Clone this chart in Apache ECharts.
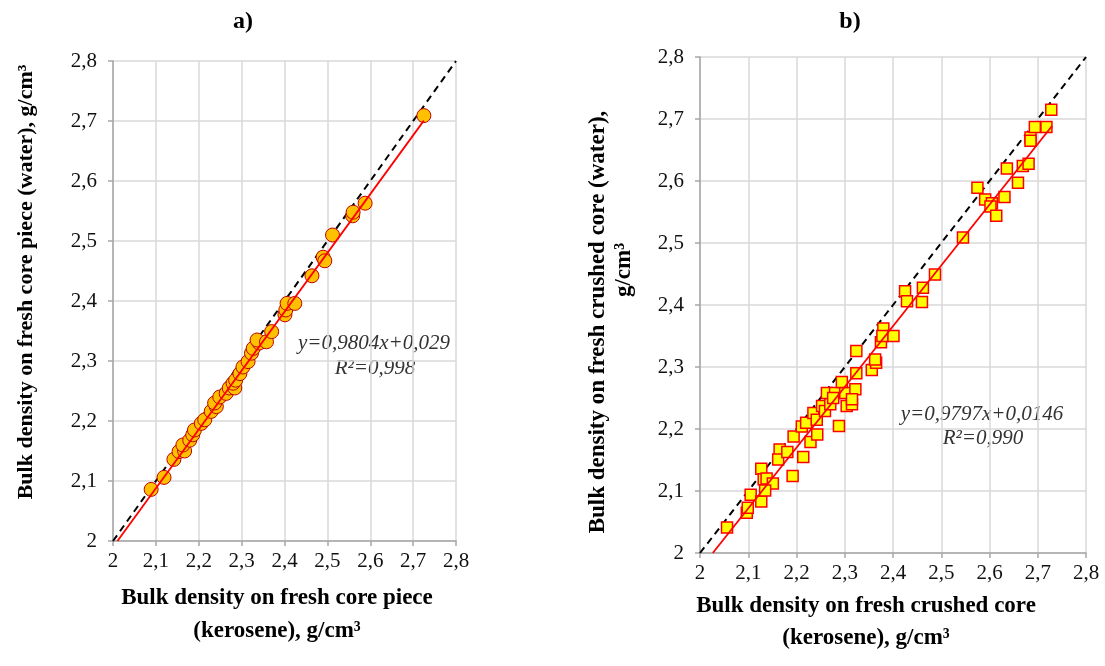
<!DOCTYPE html>
<html>
<head>
<meta charset="utf-8">
<script src="https://cdn.jsdelivr.net/npm/echarts@6/dist/echarts.min.js"></script>
<style>
html,body{margin:0;padding:0;background:#fff;}
#chart{width:1105px;height:666px;}
</style>
</head>
<body>
<div id="chart"></div>
<script>
// ---- data ----
const titles = ['a)', 'b)'];
const tickValues = [2, 2.1, 2.2, 2.3, 2.4, 2.5, 2.6, 2.7, 2.8];
const pointsA = [
  [2.089,2.086],[2.119,2.106],[2.142,2.136],[2.154,2.149],[2.167,2.150],[2.163,2.160],
  [2.179,2.168],[2.186,2.177],[2.190,2.185],[2.206,2.196],[2.214,2.202],[2.229,2.216],
  [2.241,2.224],[2.237,2.230],[2.249,2.240],[2.264,2.246],[2.271,2.255],[2.284,2.255],
  [2.280,2.263],[2.286,2.268],[2.296,2.279],[2.303,2.290],[2.315,2.299],[2.323,2.313],
  [2.327,2.321],[2.341,2.330],[2.336,2.335],[2.358,2.332],[2.370,2.349],[2.401,2.377],
  [2.403,2.385],[2.406,2.396],[2.424,2.396],[2.464,2.442],[2.490,2.473],[2.494,2.467],
  [2.512,2.510],[2.559,2.542],[2.560,2.548],[2.588,2.563],[2.725,2.709]
];
const pointsB = [
  [2.056,2.041],[2.097,2.065],[2.099,2.073],[2.105,2.094],[2.127,2.083],[2.127,2.136],
  [2.132,2.119],[2.138,2.120],[2.151,2.112],[2.135,2.101],[2.192,2.124],[2.165,2.167],
  [2.162,2.151],[2.181,2.163],[2.214,2.155],[2.194,2.188],[2.211,2.204],[2.220,2.210],
  [2.229,2.179],[2.243,2.191],[2.235,2.226],[2.242,2.215],[2.253,2.237],[2.263,2.258],
  [2.259,2.229],[2.280,2.258],[2.288,2.205],[2.301,2.258],[2.304,2.237],[2.315,2.240],
  [2.322,2.264],[2.294,2.276],[2.315,2.248],[2.270,2.240],[2.276,2.250],
  [2.324,2.326],[2.324,2.290],[2.356,2.295],[2.365,2.307],[2.363,2.312],[2.380,2.362],
  [2.375,2.340],[2.378,2.350],[2.401,2.350],[2.425,2.422],[2.429,2.406],[2.462,2.428],
  [2.460,2.405],[2.487,2.449],[2.545,2.509],[2.575,2.589],[2.591,2.570],[2.605,2.564],
  [2.602,2.559],[2.614,2.544],[2.631,2.574],[2.636,2.620],[2.659,2.597],[2.669,2.624],
  [2.681,2.628],[2.685,2.670],[2.685,2.665],[2.694,2.687],[2.718,2.687],[2.728,2.715]
];
// trendline equations (slope, intercept) and x-range
const trendA = {slope: 0.9804, intercept: 0.029, xStart: 2.0104, xEnd: 2.725};
const trendB = {slope: 0.9797, intercept: 0.0146, xStart: 2.0265, xEnd: 2.730};
const identityLine = [[2, 2], [2.8, 2.8]];
const eqTextA = ['y=0,9804x+0,029', 'R²=0,998'];
const eqTextB = ['y=0,9797x+0,0146', 'R²=0,990'];
const xTitleA = ['Bulk density on fresh core piece', '(kerosene), g/cm³'];
const yTitleA = ['Bulk density on fresh core piece (water), g/cm³'];
const xTitleB = ['Bulk density on fresh crushed core', '(kerosene), g/cm³'];
const yTitleB = ['Bulk density on fresh crushed core (water),', 'g/cm³'];

// ---- chart ----
const serif = '"Liberation Serif", "Times New Roman", serif';
const fmt = v => String(+(+v).toFixed(1)).replace('.', ',');
const trendPts = t => [[t.xStart, t.slope*t.xStart + t.intercept], [t.xEnd, t.slope*t.xEnd + t.intercept]];

function axis(idx, type) {
  return {
    type: 'value', gridIndex: idx, min: 2, max: 2.8, interval: 0.1,
    axisLine: {show: true, onZero: false, lineStyle: {color: '#A6A6A6', width: 1.5}},
    axisTick: {show: true, length: 5, lineStyle: {color: '#A6A6A6', width: 1.5}},
    splitLine: {show: true, lineStyle: {color: '#D9D9D9', width: 1.5}},
    axisLabel: {formatter: fmt, fontFamily: serif, fontSize: 21, color: '#111',
      margin: type === 'y' ? 16 : 10}
  };
}

const TF = 'bold 23px ' + serif;
const EF = 'italic 21px ' + serif;
const txt = (x, y, text, font, fill, rot) => ({type: 'text', x, y, rotation: rot || 0,
  style: {text, font, fill: fill || '#000', align: 'center', verticalAlign: 'middle'}});

const chart = echarts.init(document.getElementById('chart'));
const option = {
  backgroundColor: '#fff',
  animation: false,
  grid: [
    {left: 113, top: 61, width: 343, height: 480},
    {left: 700, top: 57, width: 386, height: 496}
  ],
  xAxis: [axis(0, 'x'), axis(1, 'x')],
  yAxis: [axis(0, 'y'), axis(1, 'y')],
  series: [
    {type: 'line', xAxisIndex: 0, yAxisIndex: 0, data: identityLine, symbol: 'none',
     lineStyle: {color: '#000', width: 2, type: [7, 5]}, z: 2},
    {type: 'line', xAxisIndex: 0, yAxisIndex: 0, data: trendPts(trendA), symbol: 'none',
     lineStyle: {color: '#FF0000', width: 1.8}, z: 4},
    {type: 'scatter', xAxisIndex: 0, yAxisIndex: 0, data: pointsA, symbol: 'circle', symbolSize: 14,
     itemStyle: {color: '#FFC000', borderColor: '#C00000', borderWidth: 1, opacity: 1}, z: 3},
    {type: 'line', xAxisIndex: 1, yAxisIndex: 1, data: identityLine, symbol: 'none',
     lineStyle: {color: '#000', width: 2, type: [7, 5]}, z: 2},
    {type: 'line', xAxisIndex: 1, yAxisIndex: 1, data: trendPts(trendB), symbol: 'none',
     lineStyle: {color: '#FF0000', width: 1.8}, z: 4},
    {type: 'scatter', xAxisIndex: 1, yAxisIndex: 1, data: pointsB, symbol: 'rect', symbolSize: 11,
     itemStyle: {color: '#FFFF00', borderColor: '#FF0000', borderWidth: 1.5, opacity: 1}, z: 3}
  ],
  graphic: [
    txt(243, 22, titles[0], 'bold 24px ' + serif),
    txt(850, 22, titles[1], 'bold 24px ' + serif),
    txt(277, 598, xTitleA[0], TF),
    txt(277, 631, xTitleA[1], TF),
    txt(866, 606, xTitleB[0], TF),
    txt(866, 638, xTitleB[1], TF),
    txt(26, 282, yTitleA[0], 'bold 22px ' + serif, '#000', Math.PI/2),
    txt(598, 322, yTitleB[0], TF, '#000', Math.PI/2),
    txt(624, 270, yTitleB[1], TF, '#000', Math.PI/2),
    txt(374, 343, eqTextA[0], EF, '#333'),
    txt(375, 368, eqTextA[1], EF, '#333'),
    txt(982, 414, eqTextB[0], EF, '#333'),
    txt(983, 438, eqTextB[1], EF, '#333')
  ]
};
chart.setOption(option);
</script>
</body>
</html>
